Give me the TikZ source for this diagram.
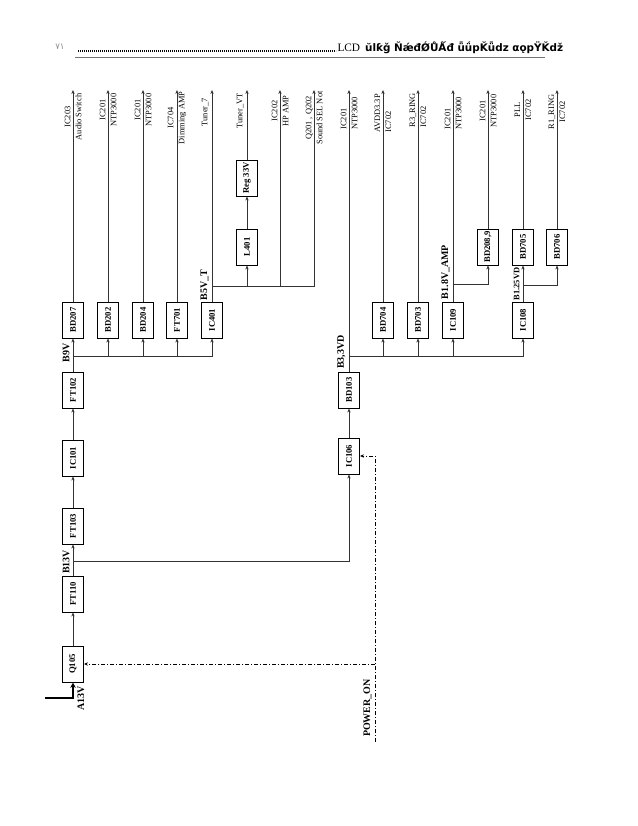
\documentclass[tikz,border=0pt]{standalone}
\usepackage{fontspec}
\setmainfont{Liberation Serif}
\newfontfamily\arabicfont[Script=Arabic]{DejaVu Sans}
\newfontfamily\garbfont{DejaVu Sans}
\usetikzlibrary{arrows.meta}

\begin{document}
\begin{tikzpicture}[x=.75pt,y=-.75pt,line width=.75pt,
  box/.style={draw,rotate=90,minimum width=27pt,minimum height=15.75pt,inner sep=0pt,font=\bfseries\fontsize{6.5}{7}\selectfont},
  dest/.style={rotate=90,align=center,inner sep=0pt,font=\fontsize{6.3}{8.25}\selectfont},
  destl/.style={dest,anchor=west,align=left},
  side/.style={rotate=90,anchor=south,inner sep=1.5pt,font=\fontsize{6.3}{7}\selectfont},
  rail/.style={rotate=90,anchor=south,inner sep=1.5pt,font=\bfseries\fontsize{7.5}{8}\selectfont},
  wire/.style={black!80},
  feed/.style={wire,-{Stealth[length=3pt,width=2.5pt]}},
  ctrl/.style={line width=.6pt,dash pattern=on 3pt off 1.5pt on .75pt off 1.5pt,-{Stealth[length=3pt,width=2.5pt]}}]
\path[use as bounding box] (0,0) rectangle (638,826);

% page header
\node[font=\arabicfont\fontsize{6.5}{7}\selectfont,text=black!45,inner sep=0pt] (pg) at (60,47) {٧١};
\coordinate (dl) at (78,51);
\coordinate (dr) at (336,51);
\draw[line width=1.3pt,dash pattern=on .9pt off .6pt] (dl) -- (dr);
\node[anchor=west,inner sep=0pt,font=\fontsize{8.5}{9}\selectfont] (lcd) at (337,48) {LCD};
\node[anchor=west,inner sep=0pt,font=\garbfont\bfseries\fontsize{7.8}{9}\selectfont] (ttl) at ([xshift=3pt]lcd.east) {ŭlƙǧ ŇǽđǾŮǺđ ǖǘpǨǖǳ αǫpŸǨdž};
\coordinate (ul) at (75,57);
\coordinate (ur) at (545,57);
\draw[black!55] (ul) -- (ur);

% 13V / 9V / 5V branch
\node[box] (q105) at (73,664) {Q105};
\node[box] (ft110) at (73,594) {FT110};
\node[box] (ft103) at (73,526) {FT103};
\node[box] (ic101) at (73,458) {IC101};
\node[box] (ft102) at (73,390) {FT102};
\node[box] (bd207) at (73,320) {BD207};
\node[box] (bd202) at (108,320) {BD202};
\node[box] (bd204) at (143,320) {BD204};
\node[box] (ft701) at (177,320) {FT701};
\node[box] (ic401) at (212,320) {IC401};
\node[box] (l401) at (247,247) {L401};
\node[box] (reg33) at (247,178) {Reg 33V};

% 3.3V / 1.8V / 1.25V branch
\node[box] (ic106) at (349,456) {IC106};
\node[box] (bd103) at (349,390) {BD103};
\node[box] (bd704) at (383,320) {BD704};
\node[box] (bd703) at (418,320) {BD703};
\node[box] (ic109) at (453,320) {IC109};
\node[box] (ic108) at (523,320) {IC108};
\node[box] (bd2089) at (488,247) {BD208,9};
\node[box] (bd705) at (523,247) {BD705};
\node[box] (bd706) at (557,247) {BD706};

\coordinate (ain) at (45,698);
\coordinate (j13) at (73,561);
\coordinate (j9) at (73,356);
\coordinate (j5) at (212,286);
\coordinate (j33) at (349,356);
\coordinate (j18) at (453,284);
\coordinate (j125) at (523,285);
\coordinate (pwr) at (375,742);

\coordinate (o207) at (73,90);
\coordinate (o202) at (108,90);
\coordinate (o204) at (143,90);
\coordinate (o701) at (177,90);
\coordinate (o401) at (212,90);
\coordinate (oreg) at (247,90);
\coordinate (ohp) at (280,90);
\coordinate (osel) at (314,90);
\coordinate (o103) at (349,90);
\coordinate (o704) at (383,90);
\coordinate (o703) at (418,90);
\coordinate (o109) at (453,90);
\coordinate (o2089) at (488,90);
\coordinate (o705) at (523,90);
\coordinate (o706) at (557,90);

% supply chain
\draw[line width=1.8pt,-{Stealth[length=4pt,width=4pt]}] (ain) -| (q105);
\draw[feed] (q105) -- (ft110);
\draw[feed] (ft110) -- (ft103);
\draw[feed] (ft103) -- (ic101);
\draw[feed] (ic101) -- (ft102);
\draw[feed] (ft102) -- (bd207);
\draw[feed] (j9) -| (bd202);
\draw[feed] (j9) -| (bd204);
\draw[feed] (j9) -| (ft701);
\draw[feed] (j9) -| (ic401);
\draw[feed] (j13) -| (ic106);
\draw[feed] (ic106) -- (bd103);
\draw[feed] (j33) -| (bd704);
\draw[feed] (j33) -| (bd703);
\draw[feed] (j33) -| (ic109);
\draw[feed] (j33) -| (ic108);

% outputs
\draw[feed] (bd207) -- (o207);
\draw[feed] (bd202) -- (o202);
\draw[feed] (bd204) -- (o204);
\draw[feed] (ft701) -- (o701);
\draw[feed] (ic401) -- (o401);
\draw[feed] (j5) -| (l401);
\draw[feed] (l401) -- (reg33);
\draw[feed] (reg33) -- (oreg);
\draw[feed] (j5) -| (ohp);
\draw[feed] (j5) -| (osel);
\draw[feed] (bd103) -- (o103);
\draw[feed] (bd704) -- (o704);
\draw[feed] (bd703) -- (o703);
\draw[feed] (ic109) -- (o109);
\draw[feed] (j18) -| (bd2089);
\draw[feed] (bd2089) -- (o2089);
\draw[wire] (ic108) -- (j125);
\draw[feed] (j125) -- (bd705);
\draw[feed] (j125) -| (bd706);
\draw[feed] (bd705) -- (o705);
\draw[feed] (bd706) -- (o706);

% power on control
\draw[ctrl] (pwr) |- (ic106);
\draw[ctrl] (pwr |- q105) -- (q105);

% rail names
\node[rail,anchor=north] (ta13) at (75,698) {A13V};
\node[rail] (tb13) at (72,562) {B13V};
\node[rail] (tb9) at (72,353) {B9V};
\node[rail] (tb5) at (211,285) {B5V\_T};
\node[rail] (tb33) at (348,352) {B3,3VD};
\node[rail] (tb18) at (452,272) {B1.8V\_AMP};
\node[rail,font=\bfseries\fontsize{6.3}{7}\selectfont] (tb125) at (522,284) {B1.25VD};
\node[rail] (tpwr) at (374,708) {POWER\_ON};

% destinations
\node[dest] (d207) at (73,117) {IC203\\Audio Switch};
\node[dest] (d202) at (108,110) {IC201\\NTP3000};
\node[dest] (d204) at (143,110) {IC201\\NTP3000};
\node[dest] (d701) at (177,118) {IC704\\Dimming AMP};
\node[side] (d401) at (211,112) {Tuner\_7};
\node[side] (dreg) at (246,111) {Tuner\_VT};
\node[dest] (dhp) at (280,111) {IC202\\HP AMP};
\node[dest] (dsel) at (314,118) {Q201 , Q202\\Sound SEL Not};
\node[destl] (d103) at (349,130) {IC201\\NTP3000};
\node[destl] (d704) at (383,133) {AVDD3.3P\\IC702};
\node[destl] (d703) at (418,128) {R3\_RING\\IC702};
\node[destl] (d109) at (453,130) {IC201\\NTP3000};
\node[dest] (d2089) at (488,111) {IC201\\NTP3000};
\node[dest] (d705) at (523,110) {PLL\\IC702};
\node[dest] (d706) at (557,112) {R1\_RING\\IC702};
\end{tikzpicture}
\end{document}
